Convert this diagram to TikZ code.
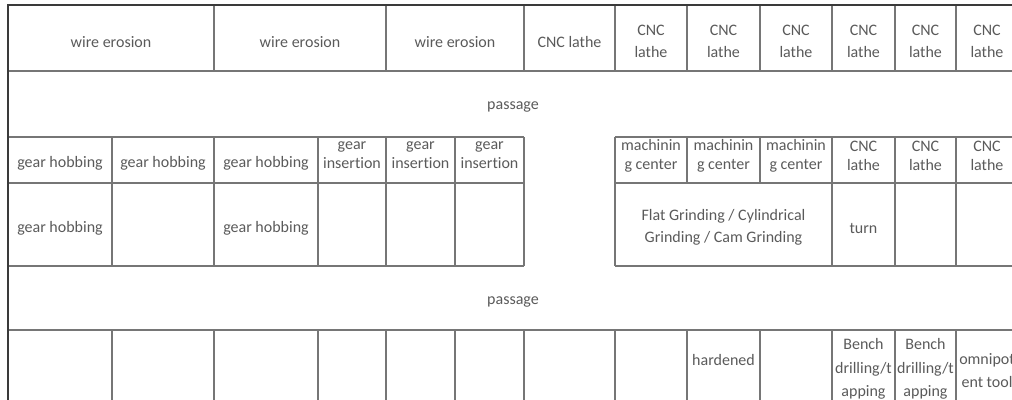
\documentclass[tikz,border=0pt]{standalone}
\usepackage{fontspec}
\setmainfont{Carlito}[Ligatures={NoCommon}]
\definecolor{txtc}{HTML}{5A5A5A}
\definecolor{linec}{HTML}{767676}
\definecolor{outc}{HTML}{3A3A3A}
\begin{document}
\begin{tikzpicture}[x=1pt,y=-1pt,
  grid/.style={draw=linec, line width=1.2pt},
  outer/.style={draw=outc, line width=2pt},
  lbl/.style={text=txtc, font=\fontsize{16}{22}\selectfont, align=center, inner sep=0pt},
  lbltight/.style={lbl, font=\fontsize{16}{19}\selectfont},
  lblloose/.style={lbl, font=\fontsize{16}{23.5}\selectfont}]
\useasboundingbox (0,0) rectangle (1012,399);
\clip (0,0) rectangle (1012,399);
% horizontal lines
\foreach \yy in {71,330} \draw[grid] (8,\yy) -- (1018,\yy);
\foreach \yy in {137,183,266} {
  \draw[grid] (8,\yy) -- (524,\yy);
  \draw[grid] (615,\yy) -- (1018,\yy);
}
% vertical lines row 1
\foreach \xx in {214,386,524,615,687,760,832,895,956,1018} \draw[grid] (\xx,5) -- (\xx,71);
% rows 3-4
\foreach \xx in {112,214,318,386,455,524,615,832,895,956,1018} \draw[grid] (\xx,137) -- (\xx,266);
\foreach \xx in {687,760} \draw[grid] (\xx,137) -- (\xx,183);
% row 6
\foreach \xx in {112,214,318,386,455,524,615,687,760,832,895,956,1018} \draw[grid] (\xx,330) -- (\xx,420);
% outer border
\draw[outer] (8,420) -- (8,5) -- (1018,5);
% row 1
\node[lbl] (w1) at (111,42) {wire erosion};
\node[lbl] (w2) at (300,42) {wire erosion};
\node[lbl] (w3) at (455,42) {wire erosion};
\node[lbl] (c1) at (569.5,42) {CNC lathe};
\node[lbl] (c2) at (651,41) {CNC\\lathe};
\node[lbl] (c3) at (723.5,41) {CNC\\lathe};
\node[lbl] (c4) at (796,41) {CNC\\lathe};
\node[lbl] (c5) at (863.5,41) {CNC\\lathe};
\node[lbl] (c6) at (925.5,41) {CNC\\lathe};
\node[lbl] (c7) at (987,41) {CNC\\lathe};
% passages
\node[lbl] (p1) at (513,107) {passage};
\node[lbl] (p2) at (513,302) {passage};
% row 3
\node[lbl] (g1) at (60,163) {gear hobbing};
\node[lbl] (g2) at (163,163) {gear hobbing};
\node[lbl] (g3) at (266,163) {gear hobbing};
\node[lbltight] (i1) at (352,155.5) {gear\\insertion};
\node[lbltight] (i2) at (420.5,155.5) {gear\\insertion};
\node[lbltight] (i3) at (489.5,155.5) {gear\\insertion};
\node[lbltight] (m1) at (651,155.5) {machinin\\g center};
\node[lbltight] (m2) at (723.5,155.5) {machinin\\g center};
\node[lbltight] (m3) at (796,155.5) {machinin\\g center};
\node[lbltight] (l1) at (863.5,155.5) {CNC\\lathe};
\node[lbltight] (l2) at (925.5,155.5) {CNC\\lathe};
\node[lbltight] (l3) at (987,155.5) {CNC\\lathe};
% row 4
\node[lbl] (h1) at (60,228) {gear hobbing};
\node[lbl] (h2) at (266,228) {gear hobbing};
\node[lbl] (fg) at (723.5,227) {Flat Grinding / Cylindrical\\Grinding / Cam Grinding};
\node[lbl] (tn) at (863.5,228) {turn};
% row 6
\node[lbl] (hd) at (723.5,360) {hardened};
\node[lblloose] (b1) at (863.5,369) {Bench\\drilling/t\\apping};
\node[lblloose] (b2) at (925.5,369) {Bench\\drilling/t\\apping};
\node[lblloose] (om) at (987,370.5) {omnipot\\ent tool};
\end{tikzpicture}
\end{document}
